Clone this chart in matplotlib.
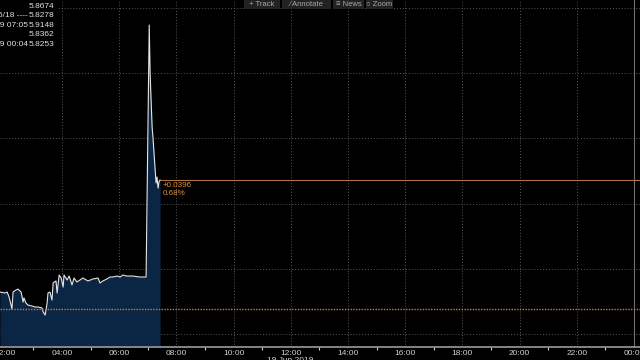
import matplotlib
matplotlib.use("Agg")
import matplotlib.pyplot as plt
from matplotlib.patches import Rectangle

# ---- data (hours of day, price) ----
times = [1.83, 2.01, 2.08, 2.15, 2.25, 2.29, 2.39, 2.46, 2.57, 2.64, 2.67, 2.74,
         2.81, 2.95, 3.06, 3.16, 3.30, 3.34, 3.41, 3.48, 3.51, 3.58, 3.65, 3.69,
         3.79, 3.83, 3.90, 3.97, 4.04, 4.07, 4.18, 4.25, 4.35, 4.42, 4.52, 4.63,
         4.73, 4.91, 5.08, 5.26, 5.33, 5.43, 5.57, 5.68, 5.78, 5.92, 6.03, 6.13,
         6.27, 6.48, 6.73, 6.83, 6.94, 7.05, 7.08, 7.15, 7.18, 7.25, 7.29, 7.32,
         7.36, 7.39, 7.43]
prices = [5.7794, 5.7789, 5.7794, 5.7769, 5.7708, 5.7794, 5.7804, 5.7809, 5.7794, 5.7743, 5.7764, 5.7738,
          5.7728, 5.7723, 5.7718, 5.7718, 5.7713, 5.7693, 5.7677, 5.7738, 5.7789, 5.7794, 5.7753, 5.7840,
          5.7850, 5.7789, 5.7880, 5.7865, 5.7819, 5.7880, 5.7855, 5.7875, 5.7830, 5.7865, 5.7845, 5.7855,
          5.7865, 5.7850, 5.7860, 5.7865, 5.7840, 5.7850, 5.7860, 5.7870, 5.7870, 5.7875, 5.7870, 5.7880,
          5.7875, 5.7875, 5.7870, 5.7870, 5.7870, 5.9148, 5.8905, 5.8631, 5.8580, 5.8428, 5.8347, 5.8377,
          5.8321, 5.8352, 5.8362]

last_price = 5.8362
ref_price = 5.7708
grid_prices = [5.7580, 5.7911, 5.8242, 5.8573, 5.8904, 5.9235]
major_hours = [2, 4, 6, 8, 10, 12, 14, 16, 18, 20, 22, 24]
minor_hours = [3, 5, 7, 9, 11, 13, 15, 17, 19, 21, 23]
tick_labels = ["02:00", "04:00", "06:00", "08:00", "10:00", "12:00", "14:00",
               "16:00", "18:00", "20:00", "22:00", "00:00"]
date_label = "19 Jun 2019"
change_text = ["+0.0396", "0.68%"]
legend_left = ["", "6/18 ----", "6/19 07:05", "", "6/19 00:04"]
legend_vals = ["5.8674", "5.8278", "5.9148", "5.8362", "5.8253"]
toolbar = ["+ Track", "\u2215 Annotate", "\u2261 News", "\u25cb Zoom"]

plt.rcParams['font.family'] = ['Liberation Sans', 'DejaVu Sans']
fig = plt.figure(figsize=(6.4, 3.6), dpi=100, facecolor="black")
ax = fig.add_axes([0, 13/360, 1, 347/360], facecolor="black")
ymin, ymax = 5.75152, 5.92748
ax.set_xlim(1.832, 24.21)
ax.set_ylim(ymin, ymax)

# grid
for h in major_hours[1:-1]:
    ax.axvline(h, color="#5a5a5a", lw=0.7, ls=(0, (1, 2)), zorder=1)
ax.axvline(24, color="#707070", lw=0.8, zorder=1)
for g in grid_prices:
    ax.axhline(g, color="#5a5a5a", lw=0.7, ls=(0, (1, 2)), zorder=1)

# series
ax.fill_between(times, prices, ymin, color="#0b2545", lw=0, zorder=2)
ax.plot(times, prices, color="#e6e6e6", lw=0.8, zorder=3)

# reference lines
ax.axhline(ref_price, color="#c08040", lw=1.0, ls=(0, (1, 1)), zorder=4)
ax.plot([times[-1], 24.21], [last_price, last_price], color="#b07040", lw=0.8, zorder=4)
ax.text(times[-1] + 0.1, last_price - 0.0008, change_text[0], color="#e09040",
        fontsize=5.8, va="top", ha="left", zorder=5)
ax.text(times[-1] + 0.1, last_price - 0.0050, change_text[1], color="#e09040",
        fontsize=5.8, va="top", ha="left", zorder=5)

# axes styling
for s in ["top", "right", "left"]:
    ax.spines[s].set_visible(False)
ax.spines["bottom"].set_color("#9a9a9a")
ax.spines["bottom"].set_linewidth(1.2)
ax.set_yticks([])
ax.set_xticks(major_hours)
ax.set_xticklabels(tick_labels)
ax.set_xticks(minor_hours, minor=True)
ax.tick_params(axis="x", which="major", length=0, pad=2, colors="#d0d0d0", labelsize=6)
ax.tick_params(axis="x", which="minor", length=2, width=0.8, color="#d0d0d0", direction="out")
fig.text(290/640, 1 - 357/360, date_label, color="#d0d0d0", fontsize=6, ha="center", va="top")

# legend box at top-left
fig.patches.append(Rectangle((0, 1 - 50/360), 57/640, 50/360, transform=fig.transFigure,
                             facecolor="black", edgecolor="none", zorder=10))
for i, (l, v) in enumerate(zip(legend_left, legend_vals)):
    yy = 1 - (6 + i * 9.6) / 360
    fig.text(54/640, yy, v, color="#e0e0e0", fontsize=6, ha="right", va="center", zorder=11)
    if l:
        fig.text(28/640, yy, l, color="#e0e0e0", fontsize=6, ha="right", va="center", zorder=11)

# toolbar
xs = [244, 282, 333, 366]
ws = [36, 49, 31, 27]
for x0, w, t in zip(xs, ws, toolbar):
    fig.patches.append(Rectangle((x0/640, 1 - 9/360), w/640, 9/360, transform=fig.transFigure,
                                 facecolor="#222222", edgecolor="none", zorder=10))
    fig.text((x0 + w/2)/640, 1 - 4/360, t, color="#a8a8a8", fontsize=5.5,
             ha="center", va="center", zorder=11)

fig.savefig("out.png", dpi=100, facecolor="black")
